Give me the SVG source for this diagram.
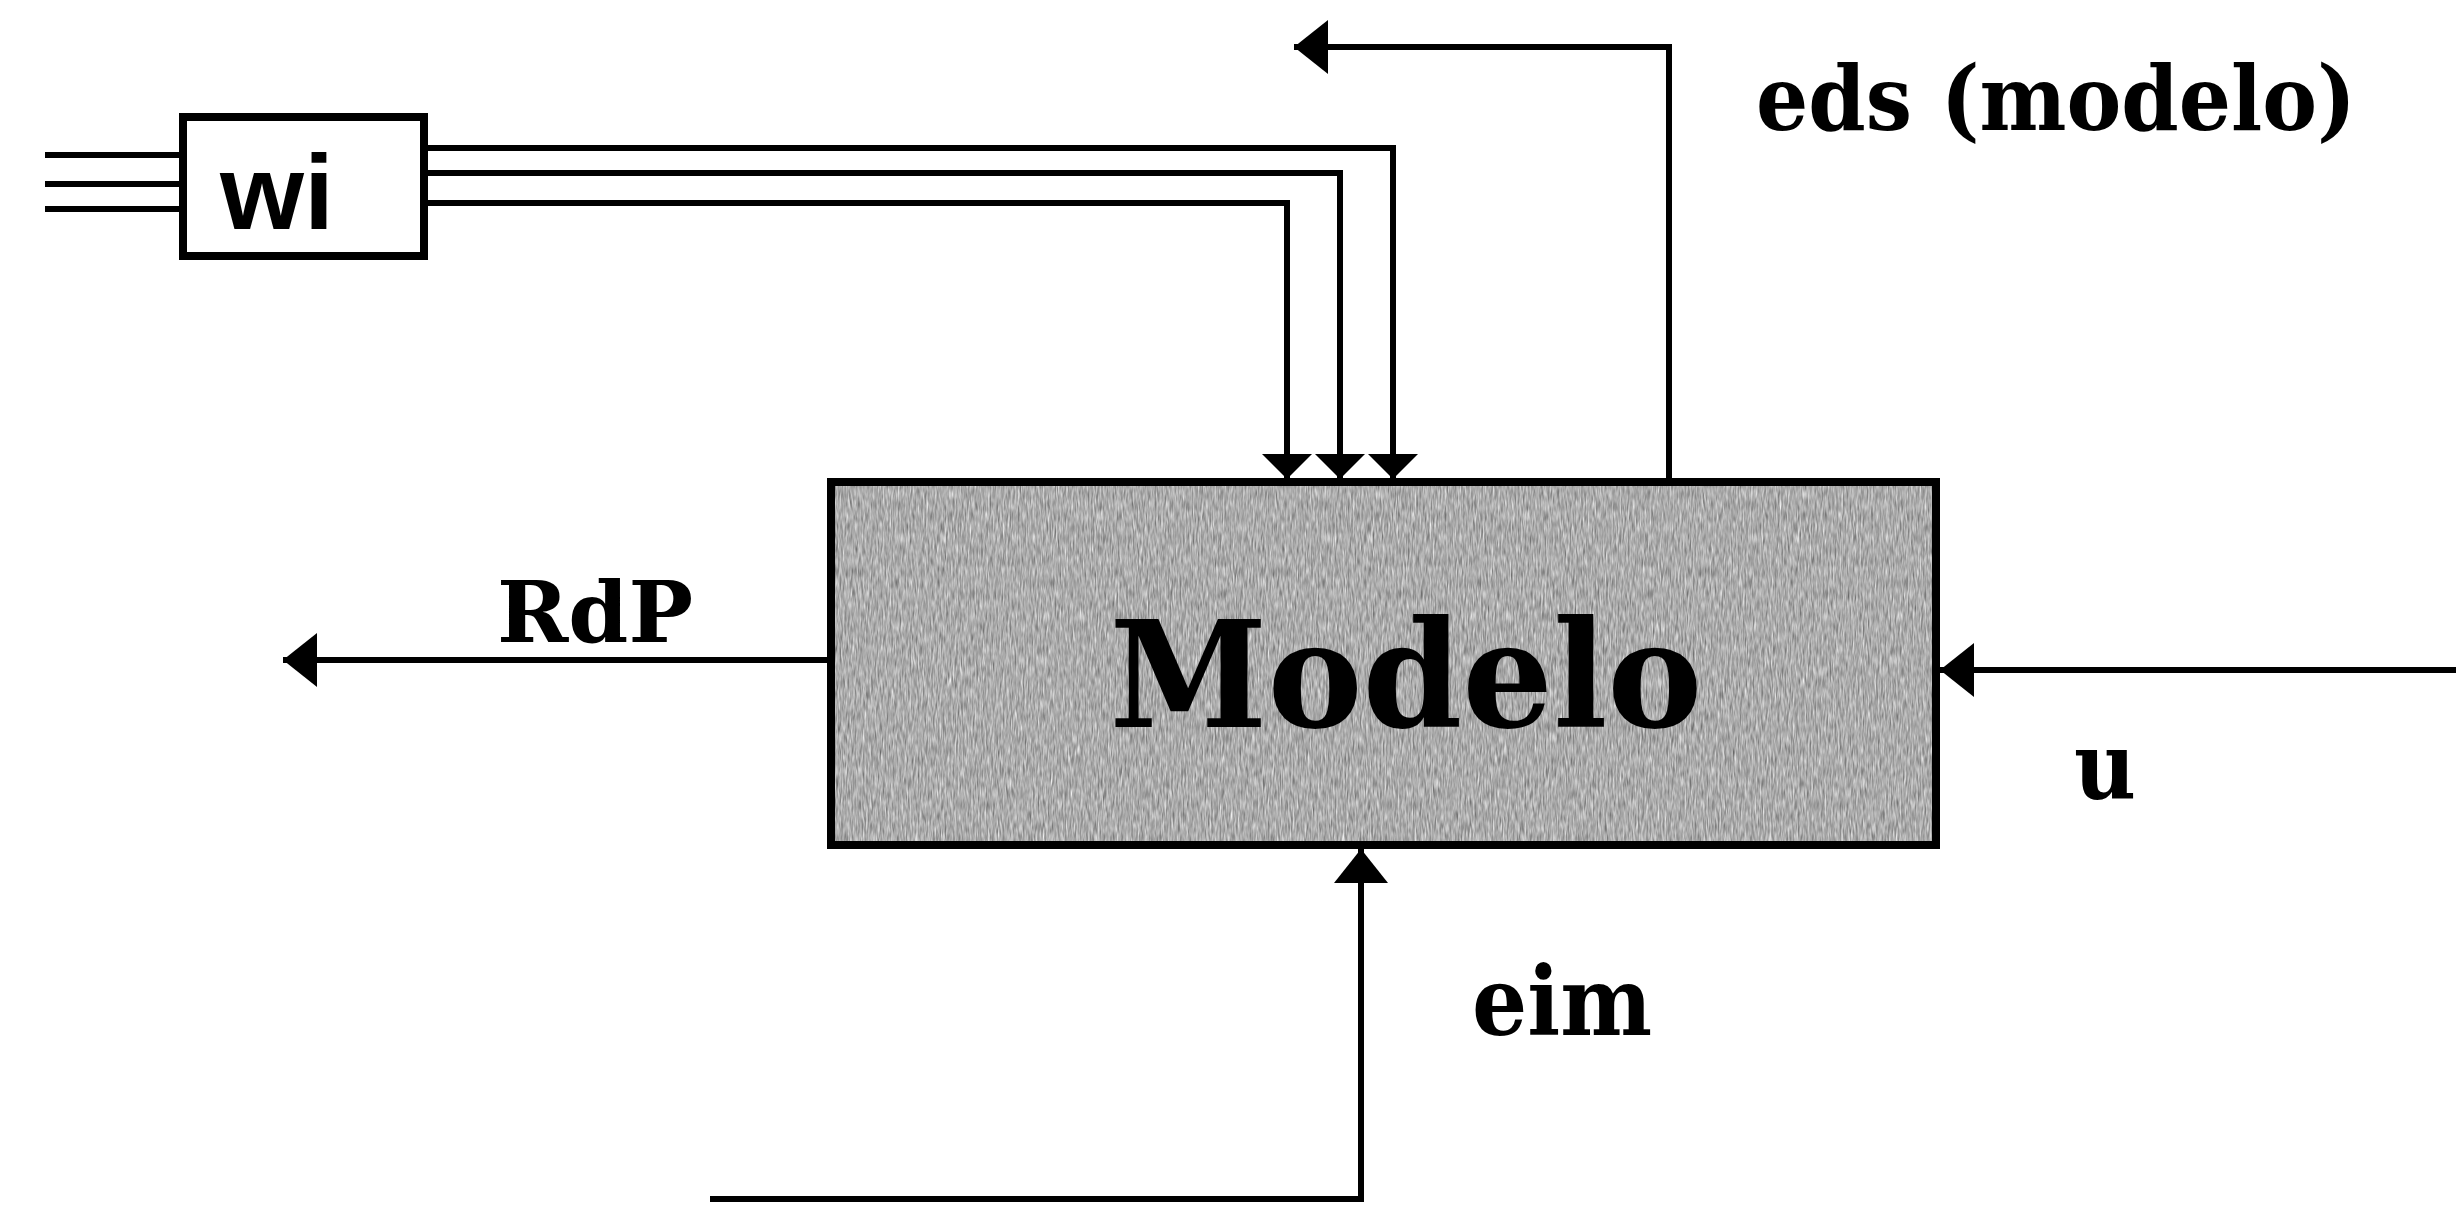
<svg xmlns="http://www.w3.org/2000/svg" width="2456" height="1206" viewBox="0 0 2456 1206">
  <style>
    .box { stroke: #000; stroke-width: 8; }
    .wire { fill: none; stroke: #000; stroke-width: 6; stroke-linejoin: miter; }
    .lbl { font-family: "DejaVu Serif", "Liberation Serif", serif; font-weight: bold; fill: #000; }
    .sans { font-family: "Liberation Sans", Arial, sans-serif; font-weight: bold; fill: #000; }
  </style>
  <defs>
    <marker id="big" markerUnits="userSpaceOnUse" markerWidth="36" markerHeight="56" refX="34" refY="27" orient="auto" viewBox="0 0 36 56">
      <path d="M0,0 L34,27 L0,54 Z" fill="#000"/>
    </marker>
    <marker id="small" markerUnits="userSpaceOnUse" markerWidth="28" markerHeight="52" refX="25" refY="25" orient="auto" viewBox="0 0 28 52">
      <path d="M0,0 L25,25 L0,50 Z" fill="#000"/>
    </marker>
    <filter id="grain" x="0" y="0" width="100%" height="100%" color-interpolation-filters="sRGB">
      <feTurbulence type="fractalNoise" baseFrequency="0.6 0.09" numOctaves="2" seed="5" result="t"/>
      <feColorMatrix in="t" type="matrix" values="0.33 0.33 0.33 0 0  0.33 0.33 0.33 0 0  0.33 0.33 0.33 0 0  0 0 0 0 1" result="g"/>
      <feComponentTransfer in="g">
        <feFuncR type="linear" slope="1.0" intercept="0.18"/>
        <feFuncG type="linear" slope="1.0" intercept="0.18"/>
        <feFuncB type="linear" slope="1.0" intercept="0.18"/>
      </feComponentTransfer>
    </filter>
  </defs>
  <rect width="2456" height="1206" fill="#fff"/>

  <g id="connectors">
    <!-- inputs into wi -->
    <path class="wire" d="M45,155 H183"/>
    <path class="wire" d="M45,184 H183"/>
    <path class="wire" d="M45,209 H183"/>
    <!-- wi to Modelo -->
    <path class="wire" d="M424,148 H1393 V479" marker-end="url(#small)"/>
    <path class="wire" d="M424,173 H1340 V479" marker-end="url(#small)"/>
    <path class="wire" d="M424,203 H1287 V479" marker-end="url(#small)"/>
    <!-- eds (modelo) -->
    <path class="wire" d="M1669,482 V47 H1294" marker-end="url(#big)"/>
    <!-- RdP -->
    <path class="wire" d="M831,660 H283" marker-end="url(#big)"/>
    <!-- u -->
    <path class="wire" d="M2456,670 H1940" marker-end="url(#big)"/>
    <!-- eim -->
    <path class="wire" d="M710,1199 H1361 V849" marker-end="url(#big)"/>

    <text class="lbl" x="1756" y="130" font-size="90" textLength="600" lengthAdjust="spacingAndGlyphs">eds (modelo)</text>
    <text class="lbl" x="497" y="642" font-size="85" textLength="196" lengthAdjust="spacingAndGlyphs">RdP</text>
    <text class="lbl" x="2074" y="799" font-size="94" textLength="62" lengthAdjust="spacingAndGlyphs">u</text>
    <text class="lbl" x="1472" y="1035" font-size="96" textLength="180" lengthAdjust="spacingAndGlyphs">eim</text>
  </g>

  <g id="node-wi">
    <rect class="box" x="183" y="117" width="241" height="139" fill="#fff"/>
    <text class="sans" x="220" y="229" font-size="106" textLength="114" lengthAdjust="spacingAndGlyphs">wi</text>
  </g>

  <g id="node-modelo">
    <rect x="831" y="482" width="1105" height="363" fill="#a8a8a8"/>
    <rect x="831" y="482" width="1105" height="363" filter="url(#grain)"/>
    <rect class="box" x="831" y="482" width="1105" height="363" fill="none"/>
    <text class="lbl" x="1406" y="727" font-size="147" text-anchor="middle" textLength="593" lengthAdjust="spacingAndGlyphs">Modelo</text>
  </g>
</svg>
